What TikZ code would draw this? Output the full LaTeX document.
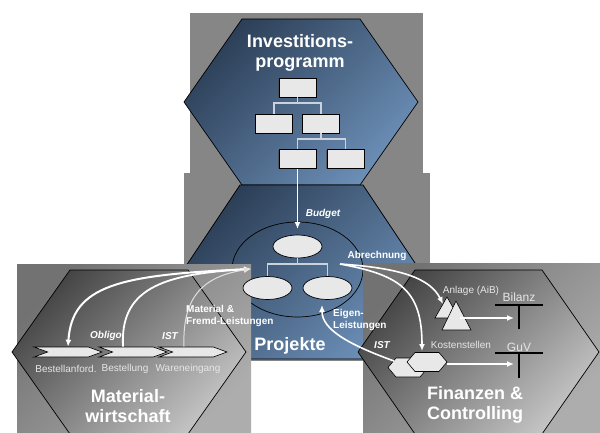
\documentclass[tikz,border=0pt]{standalone}
\usepackage{fontspec}
\setmainfont{Liberation Sans}
\usetikzlibrary{shapes.geometric,shapes.symbols,arrows.meta,shadows}
\definecolor{hexdark}{HTML}{2C3F57}
\definecolor{hexlight}{HTML}{6C8FB7}
\definecolor{paneldark}{HTML}{454545}
\definecolor{panellight}{HTML}{C4C4C4}
\definecolor{rectdark}{HTML}{727272}
\definecolor{rectlight}{HTML}{ADADAD}
\definecolor{bggray}{HTML}{868686}
\definecolor{boxgray}{HTML}{E8E8E8}
\definecolor{lblgray}{HTML}{E6E6E6}
\definecolor{linegray}{HTML}{C9D2DD}

\begin{document}
\begin{tikzpicture}[x=1pt,y=-1pt,
	bluehex/.style={draw=black, line width=0.7pt, top color=hexdark, bottom color=hexlight, shading angle=45},
	grayhex/.style={draw=black, line width=0.7pt, top color=paneldark, bottom color=panellight, shading angle=45},
	panelrect/.style={top color=rectdark, bottom color=rectlight, shading angle=45},
	orgbox/.style={rectangle, draw=black, line width=0.8pt, fill=boxgray, minimum width=37, minimum height=19, inner sep=0pt,
		drop shadow={shadow xshift=-1pt, shadow yshift=-1pt, fill=black!70, opacity=0.7}},
	projnode/.style={ellipse, draw=black, line width=0.7pt, fill=boxgray, minimum width=49, minimum height=23, inner sep=0pt},
	orgline/.style={draw=linegray, line width=1.1pt},
	chev/.style={signal, signal from=west, signal to=east, signal pointer angle=40, draw=black, line width=0.6pt,
		fill=boxgray, minimum width=68, minimum height=10, inner sep=0pt},
	smallshape/.style={draw=black, line width=0.6pt, fill=boxgray},
	taccount/.style={draw=black, line width=1.6pt},
	flow/.style={draw=white, line width=1.6pt, -{Latex[length=7pt,width=6pt]}},
	title/.style={text=white, font=\fontsize{18}{20}\selectfont\bfseries, align=center},
	lbl/.style={text=lblgray, font=\fontsize{10}{11}\selectfont, inner sep=1pt},
	flowlbl/.style={text=white, font=\fontsize{10}{11.5}\selectfont\bfseries, inner sep=1pt, align=left},
	flowlblit/.style={text=white, font=\fontsize{10}{11}\selectfont\bfseries\itshape, inner sep=1pt}]
	\useasboundingbox (0,0) rectangle (600,433);

	% background frames and hexagons
	\fill[bggray] (184,173) rectangle (430,361);
	\fill[bggray] (190,13) rectangle (423,175);
	\draw[bluehex] (184,102) -- (242,19) -- (360,19) -- (418,102) -- (360,185) -- (242,185) -- cycle;
	\draw[bluehex] (182,272) -- (240,185) -- (363,185) -- (421,272) -- (363,359) -- (240,359) -- cycle;

	% Investitionsprogramm
	\node[title] (invtitle) at (300,53) {Investitions-\\programm};
	\node[orgbox] (b1) at (297.5,87.5) {};
	\node[orgbox] (b2) at (274,123.5) {};
	\node[orgbox] (b3) at (321,123.5) {};
	\node[orgbox] (b4) at (297.5,159) {};
	\node[orgbox] (b5) at (345.5,159) {};
	\coordinate (j1) at (297.5,103);
	\coordinate (j2) at (321,139);
	\draw[orgline] (b1) -- (j1) (j1) -| (b2) (j1) -| (b3);
	\draw[orgline] (b3) -- (j2) (j2) -| (b4) (j2) -| (b5);

	% Projekte
	\node[draw=black, line width=0.7pt, ellipse, minimum width=131, minimum height=95] (projell) at (297.5,269.5) {};
	\node[title] (projtitle) at (290,346) {Projekte};

	% Materialwirtschaft
	\fill[panelrect] (17,264) rectangle (251,433);
	\draw[grayhex] (12,352) -- (70,270) -- (188,270) -- (246,352) -- (188,434) -- (70,434) -- cycle;
	\node[title] (mattitle) at (128,406) {Material-\\wirtschaft};

	% Finanzen & Controlling
	\fill[panelrect] (363,263) rectangle (600,433);
	\draw[grayhex] (358,352) -- (415,270) -- (542,270) -- (599,352) -- (542,434) -- (415,434) -- cycle;
	\node[title] (fintitle) at (475,405) {Finanzen \&\\Controlling};

	% project structure
	\node[projnode] (e1) at (297.5,246.5) {};
	\node[projnode] (e2) at (267.5,288) {};
	\node[projnode] (e3) at (327.5,288) {};
	\coordinate (j3) at (297.5,264);
	\draw[orgline] (e1) -- (j3) (j3) -| (e2) (j3) -| (e3);

	% chain in Materialwirtschaft
	\node[chev] (banf) at (68,352) {};
	\node[chev] (bestell) at (133,352) {};
	\node[chev] (wein) at (193,352) {};
	\node[lbl] (banflbl) at (66,369) {Bestellanford.};
	\node[lbl] (bestelllbl) at (125,369) {Bestellung};
	\node[lbl] (weinlbl) at (188,369) {Wareneingang};

	% objects in Finanzen
	\draw[smallshape] (435,318) -- (447,297) -- (459,318) -- cycle;
	\draw[smallshape] (442,330) -- (456,301) -- (471,330) -- cycle;
	\draw[smallshape] (388,367.5) -- (396,358) -- (420,358) -- (428,367.5) -- (420,377) -- (396,377) -- cycle;
	\draw[smallshape] (407,362) -- (415,352.5) -- (439,352.5) -- (447,362) -- (439,371.5) -- (415,371.5) -- cycle;
	\draw[taccount] (495,305) -- (543,305) (519,305) -- (519,329);
	\draw[taccount] (495,353) -- (543,353) (519,353) -- (519,378);
	\node[lbl] (aiblbl) at (471,291) {Anlage (AiB)};
	\node[lbl] (kstlbl) at (461,345) {Kostenstellen};
	\node[lbl, font=\fontsize{12}{13}\selectfont] (bilanz) at (519,297) {Bilanz};
	\node[lbl, font=\fontsize{12}{13}\selectfont] (guv) at (519,347) {GuV};

	% flows
	\coordinate (budgetin) at (297.5,229);
	\coordinate (projin) at (251,269);
	\coordinate (abr) at (340,264);
	\coordinate (aibin) at (443,304);
	\coordinate (aibout) at (460,318);
	\coordinate (bilanzin) at (514,318);
	\coordinate (kstin) at (422,351);
	\coordinate (kstout) at (447,364);
	\coordinate (guvin) at (514,364);
	\coordinate (eigenout) at (394,361);
	\coordinate (eigenin) at (322,305);
	\draw[flow] (b4) -- (budgetin);
	\draw[flow, line width=2pt, {Latex[length=7pt,width=6pt]}-{Latex[length=7pt,width=6pt]}] (banf.north) .. controls (72,285) and (120,275) .. (projin);
	\draw[flow, line width=1.8pt] ([xshift=-10pt]bestell.north) .. controls (120,290) and (160,274) .. (projin);
	\draw[flow, draw=white!88!black, line width=1pt] ([xshift=-9pt]wein.north) .. controls (182,295) and (205,276) .. (projin);
	\draw[flow] (abr) .. controls (400,268) and (430,278) .. (aibin);
	\draw[flow] (abr) .. controls (400,275) and (422,290) .. (kstin);
	\draw[flow] (eigenout) .. controls (350,345) and (322,330) .. (eigenin);
	\draw[flow] (aibout) -- (bilanzin);
	\draw[flow] (kstout) -- (guvin);

	% flow labels
	\node[flowlblit] (budgetlbl) at (323,214) {Budget};
	\node[flowlbl] (abrlbl) at (377,256) {Abrechnung};
	\node[flowlbl, anchor=west] (matlbl) at (185,316) {Material \&\\Fremd-Leistungen};
	\node[flowlbl, anchor=west] (eigenlbl) at (332,320) {Eigen-\\Leistungen};
	\node[flowlblit] (obligolbl) at (106,336) {Obligo};
	\node[flowlblit] (istlbl) at (170,336) {IST};
	\node[flowlblit] (istlbl2) at (382,345) {IST};
\end{tikzpicture}
\end{document}
